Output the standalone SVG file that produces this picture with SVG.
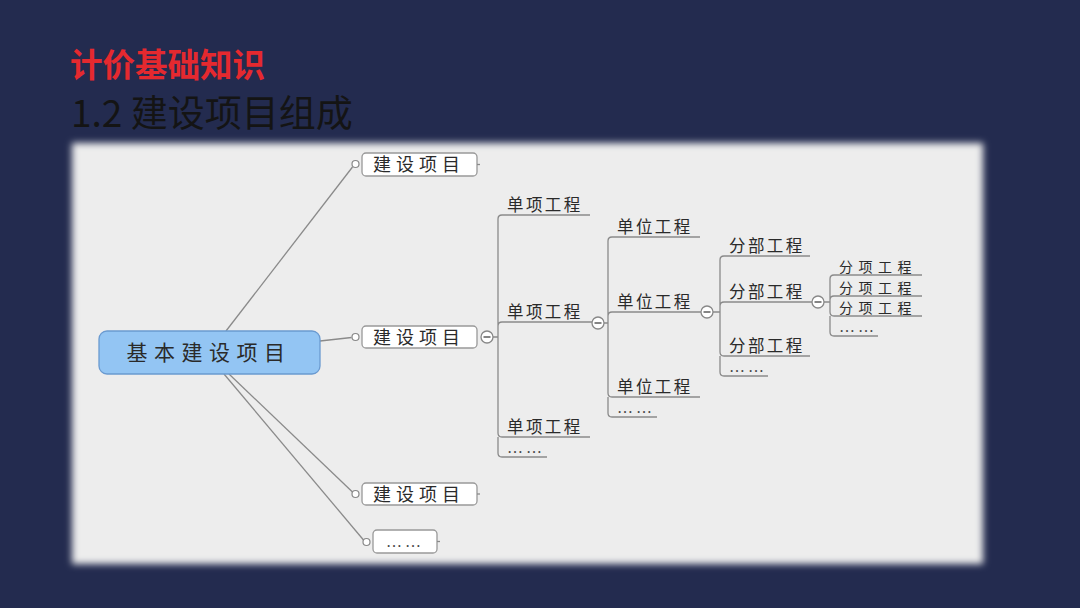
<svg xmlns="http://www.w3.org/2000/svg" width="1080" height="608" viewBox="0 0 1080 608">
<defs>
<filter id="soft" x="-5%" y="-5%" width="110%" height="110%"><feGaussianBlur stdDeviation="3.5"/></filter>
<style>
.ln{fill:none;stroke:#8a8a8a;stroke-width:1.3}
.ul{fill:none;stroke:#8a8a8a;stroke-width:1.3}
.t{font-family:"Noto Sans CJK SC","Noto Sans",sans-serif;fill:#2a2a2a;}
.s{font-size:16.5px;letter-spacing:2.4px}
.s5{font-size:14px;letter-spacing:5.5px}
.d{font-family:"Liberation Serif",serif;font-size:16px;fill:#444;letter-spacing:3px}
.box{fill:#fff;stroke:#999;stroke-width:1.3}
.pin{fill:#fff;stroke:#888;stroke-width:1.2}
.col{fill:#fff;stroke:#888;stroke-width:1.3}
.minus{stroke:#666;stroke-width:1.6}
</style>
</defs>
<rect width="1080" height="608" fill="#232b4f"/>
<rect x="72" y="143" width="911" height="421" fill="#ededed" filter="url(#soft)"/>
<text x="70" y="77" font-family="Noto Sans CJK SC,sans-serif" font-size="32.5" font-weight="bold" fill="#e5292f">计价基础知识</text>
<text x="71" y="127" font-family="Noto Sans CJK SC,sans-serif" font-size="37" fill="#141414">1.2 建设项目组成</text>

<g id="connectors">
<path class="ln" d="M226,331 L352.5,167"/>
<path class="ln" d="M320,341 L351.5,337.5"/>
<path class="ln" d="M229,374 L352.5,492"/>
<path class="ln" d="M224,374 L363.5,540"/>
<path class="ln" d="M493,337 H498 M498,337 V219 Q498,215 502,215 M498,337 V326 Q498,322 502,322 M498,337 V433 Q498,437 502,437 M498,437 V453 Q498,457 502,457"/>
<path class="ln" d="M604,323 H608 M608,323 V241 Q608,237 612,237 M608,323 V316 Q608,312 612,312 M608,323 V393 Q608,397 612,397 M608,397 V413 Q608,417 612,417"/>
<path class="ln" d="M713,312 H720 M720,312 V260 Q720,256 724,256 M720,312 V306 Q720,302 724,302 M720,312 V352 Q720,356 724,356 M720,356 V372 Q720,376 724,376"/>
<path class="ln" d="M824,302 H830 M830,302 V279 Q830,275 834,275 M830,302 V300 Q830,296 834,296 M830,302 V312 Q830,316 834,316 M830,316 V332 Q830,336 834,336"/>
</g>

<g id="root">
<rect x="99" y="331" width="221" height="43" rx="8" fill="#93c5f3" stroke="#6a9ad0" stroke-width="1.3"/>
<text class="t" x="209" y="360" font-size="21" letter-spacing="6.5" text-anchor="middle">基本建设项目</text>
</g>

<g id="project1">
<circle class="pin" cx="355.5" cy="164" r="3.5"/>
<rect class="box" x="362" y="153" width="115" height="23" rx="4"/>
<path class="ln" d="M477,164.5 H480"/>
<text class="t" x="373" y="171" font-size="18" letter-spacing="5">建设项目</text>
</g>
<g id="project2">
<circle class="pin" cx="355.5" cy="337" r="3.5"/>
<rect class="box" x="362" y="326" width="115" height="22" rx="4"/>
<text class="t" x="373" y="344" font-size="18" letter-spacing="5">建设项目</text>
<circle class="col" cx="487" cy="337" r="6"/>
<path class="minus" d="M483.5,337 H490.5"/>
</g>
<g id="project3">
<circle class="pin" cx="355.5" cy="494" r="3.5"/>
<rect class="box" x="362" y="483" width="115" height="22" rx="4"/>
<path class="ln" d="M477,494 H480"/>
<text class="t" x="373" y="501" font-size="18" letter-spacing="5">建设项目</text>
</g>
<g id="project-more">
<circle class="pin" cx="366.5" cy="542" r="3.5"/>
<rect class="box" x="373" y="530" width="64" height="23" rx="4"/>
<path class="ln" d="M437,541.5 H440"/>
<text class="d" x="386" y="547">……</text>
</g>

<g id="single1"><path class="ul" d="M502,215 H590"/><text class="t s" x="507" y="211">单项工程</text></g>
<g id="single2"><path class="ul" d="M502,322 H592"/><text class="t s" x="507" y="318">单项工程</text>
<circle class="col" cx="598" cy="323" r="6"/><path class="minus" d="M594.5,323 H601.5"/></g>
<g id="single3"><path class="ul" d="M502,437 H590"/><text class="t s" x="507" y="433">单项工程</text></g>
<g id="single-more"><path class="ul" d="M502,457 H547"/><text class="d" x="507" y="453">……</text></g>

<g id="unit1"><path class="ul" d="M612,237 H700"/><text class="t s" x="617" y="233">单位工程</text></g>
<g id="unit2"><path class="ul" d="M612,312 H701"/><text class="t s" x="617" y="308">单位工程</text>
<circle class="col" cx="707" cy="312" r="6"/><path class="minus" d="M703.5,312 H710.5"/></g>
<g id="unit3"><path class="ul" d="M612,397 H700"/><text class="t s" x="617" y="393">单位工程</text></g>
<g id="unit-more"><path class="ul" d="M612,417 H657"/><text class="d" x="617" y="413">……</text></g>

<g id="part1"><path class="ul" d="M724,256 H810"/><text class="t s" x="729" y="252">分部工程</text></g>
<g id="part2"><path class="ul" d="M724,302 H812"/><text class="t s" x="729" y="298">分部工程</text>
<circle class="col" cx="818" cy="302" r="6"/><path class="minus" d="M814.5,302 H821.5"/></g>
<g id="part3"><path class="ul" d="M724,356 H810"/><text class="t s" x="729" y="352">分部工程</text></g>
<g id="part-more"><path class="ul" d="M724,376 H768"/><text class="d" x="729" y="372">……</text></g>

<g id="item1"><path class="ul" d="M834,275 H922"/><text class="t s5" x="839" y="272">分项工程</text></g>
<g id="item2"><path class="ul" d="M834,296 H922"/><text class="t s5" x="839" y="293">分项工程</text></g>
<g id="item3"><path class="ul" d="M834,316 H922"/><text class="t s5" x="839" y="313">分项工程</text></g>
<g id="item-more"><path class="ul" d="M834,336 H878"/><text class="d" x="839" y="332">……</text></g>
</svg>
